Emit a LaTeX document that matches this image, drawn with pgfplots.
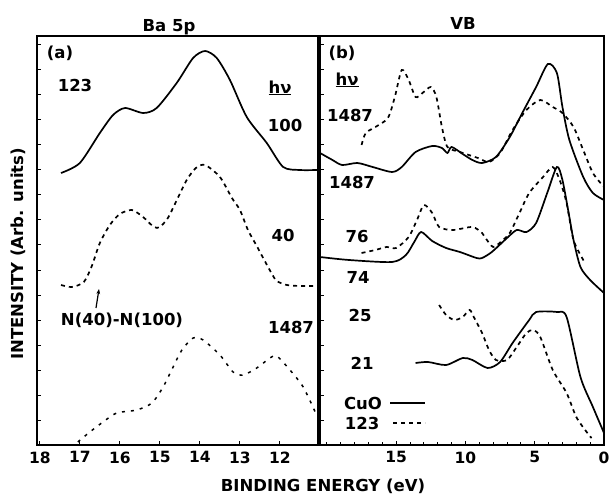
\documentclass[border=0pt]{standalone}
\usepackage{fontspec}
\setmainfont{DejaVu Sans}
\usepackage{pgfplots}
\pgfplotsset{compat=1.18}
\usetikzlibrary{arrows.meta}
\newcommand{\lab}{\bfseries\fontsize{16.5}{18}\selectfont}
\begin{document}
\begin{tikzpicture}[x=1pt,y=1pt]
\useasboundingbox (0,0) rectangle (609,498);
\pgfplotsset{
  panel/.style={
    anchor=south west, scale only axis, height=409pt,
    ymin=53, ymax=462, x dir=reverse,
    axis line style={line width=1.8pt},
    tick align=inside, major tick length=4pt, minor tick length=3pt,
    tick style={line width=1pt, black},
    ytick={78,103,...,453}, yticklabels={}, ytick pos=left,
    xtick pos=bottom,
    /pgf/number format/assume math mode=true,
    xticklabel style={font=\bfseries\fontsize{15.5}{16}\selectfont, yshift=-3pt},
    clip=false,
  },
  sol/.style={line width=1.7pt, smooth, tension=0.45, black},
  dsh/.style={line width=1.7pt, smooth, tension=0.45, black, dash pattern=on 4pt off 4pt},
  dot/.style={line width=1.5pt, smooth, tension=0.45, black, dash pattern=on 3pt off 6pt},
}
\begin{axis}[panel, at={(37pt,53pt)}, width=281pt,
  xmin=11.05, xmax=18.07, xtick={12,...,18}]
\addplot[sol] coordinates {(17.47,325)(17.0,335)(16.5,365)(16.17,383)(15.87,390)(15.42,385)(15.08,390)(14.58,415)(14.17,440)(13.87,447)(13.58,440)(13.25,418)(12.83,381)(12.33,355)(11.92,331)(11.5,328)(11.08,328)};
\addplot[dsh] coordinates {(17.47,213)(17.2,211)(16.9,216)(16.7,232)(16.5,255)(16.25,273)(16.0,284)(15.7,288)(15.42,281)(15.15,271)(15.0,271)(14.8,280)(14.6,296)(14.33,318)(14.1,330)(13.87,333)(13.5,321)(13.2,300)(13.0,288)(12.8,268)(12.58,252)(12.42,240)(12.2,224)(12.08,217)(11.83,213)(11.5,212)(11.08,212)};
\addplot[dot] coordinates {(17.05,56)(16.75,66)(16.42,76)(16.08,85)(15.58,88)(15.2,95)(14.92,111)(14.67,131)(14.45,148)(14.17,160)(13.92,158)(13.5,143)(13.17,126)(12.92,123)(12.58,130)(12.25,140)(12.08,142)(11.75,128)(11.42,111)(11.12,86)};
\end{axis}
\begin{axis}[panel, at={(320pt,53pt)}, width=284pt,
  xmin=0, xmax=20.5, xtick={0,5,10,15}, minor xtick={1,...,20}]
\addplot[sol] coordinates {(20.5,345)(19.6,338)(18.9,333)(17.8,335)(16.7,331)(15.3,326)(14.6,331)(13.6,346)(12.4,352)(11.7,350)(11.3,345)(11.0,351)(10.2,344)(9.5,338)(8.8,335)(7.8,341)(6.8,361)(5.9,385)(4.9,411)(4.05,434)(3.4,425)(3.0,391)(2.5,358)(1.5,321)(0.8,305)(0.0,298)};
\addplot[dsh] coordinates {(17.5,353)(17.2,365)(16.5,371)(15.6,380)(15.1,401)(14.6,428)(14.1,418)(13.6,401)(13.1,405)(12.5,411)(12.1,401)(11.7,371)(11.3,351)(10.4,346)(9.1,340)(8.3,336)(7.5,345)(6.6,368)(5.6,388)(4.6,398)(3.7,391)(3.0,385)(2.2,371)(1.5,348)(0.8,325)(0.0,311)};
\addplot[sol] coordinates {(20.5,241)(18.4,238)(15.3,236)(14.3,243)(13.7,256)(13.2,266)(12.4,257)(11.4,250)(10.4,246)(9.2,240)(8.8,240)(8.1,246)(7.0,260)(6.3,268)(5.6,266)(4.9,275)(4.1,305)(3.4,331)(3.0,318)(2.5,281)(2.2,258)(1.7,231)(1.0,218)(0.0,205)};
\addplot[dsh] coordinates {(17.5,245)(16.5,248)(15.7,251)(15.0,250)(14.1,261)(13.5,278)(13.0,293)(12.4,285)(11.9,271)(10.9,268)(9.5,271)(8.8,265)(8.6,261)(8.0,251)(7.3,258)(6.8,265)(6.1,285)(5.4,305)(4.4,321)(3.7,331)(3.2,318)(2.7,295)(2.2,258)(1.5,238)(1.4,235)};
\addplot[sol] coordinates {(13.6,135)(12.7,136)(11.4,133)(10.2,140)(9.5,138)(8.4,130)(7.5,136)(6.6,155)(5.4,178)(4.9,186)(3.4,186)(2.7,181)(1.7,121)(0.8,91)(0.0,65)};
\addplot[dsh] coordinates {(11.9,193)(11.4,183)(10.8,178)(10.2,181)(9.7,188)(9.4,181)(8.8,165)(8.3,148)(7.8,138)(7.0,138)(6.3,151)(5.6,165)(5.1,168)(4.6,161)(3.7,128)(2.7,105)(2.0,81)(1.2,65)(0.9,60)};
\end{axis}
% titles and axis labels
\node[font=\lab] at (169,471) {Ba 5p};
\node[font=\lab] at (463,475) {VB};
\node[font=\lab, rotate=90] at (18,244) {INTENSITY (Arb. units)};
\node[font=\lab] at (323,12) {BINDING ENERGY (eV)};
% panel (a) labels
\node[font=\lab] at (60,445) {(a)};
\node[font=\lab] at (75,413) {123};
\node[font=\lab] at (280,410) {\underline{hν}};
\node[font=\lab] at (285,373) {100};
\node[font=\lab] at (283,263) {40};
\node[font=\lab] at (122,178) {N(40)-N(100)};
\node[font=\lab] at (291,171) {1487};
\draw[line width=1.2pt, -{Stealth[length=5pt]}] (96,190) -- (99,209);
% panel (b) labels
\node[font=\lab] at (342,445) {(b)};
\node[font=\lab] at (347,418) {\underline{hν}};
\node[font=\lab] at (350,383) {1487};
\node[font=\lab] at (352,316) {1487};
\node[font=\lab] at (357,261) {76};
\node[font=\lab] at (358,221) {74};
\node[font=\lab] at (360,183) {25};
\node[font=\lab] at (362,135) {21};
\node[font=\lab] at (363,95) {CuO};
\draw[line width=1.7pt] (390,95) -- (425,95);
\node[font=\lab] at (362,75) {123};
\draw[line width=1.7pt, dash pattern=on 4pt off 4pt] (393,75) -- (425,75);
\end{tikzpicture}
\end{document}
